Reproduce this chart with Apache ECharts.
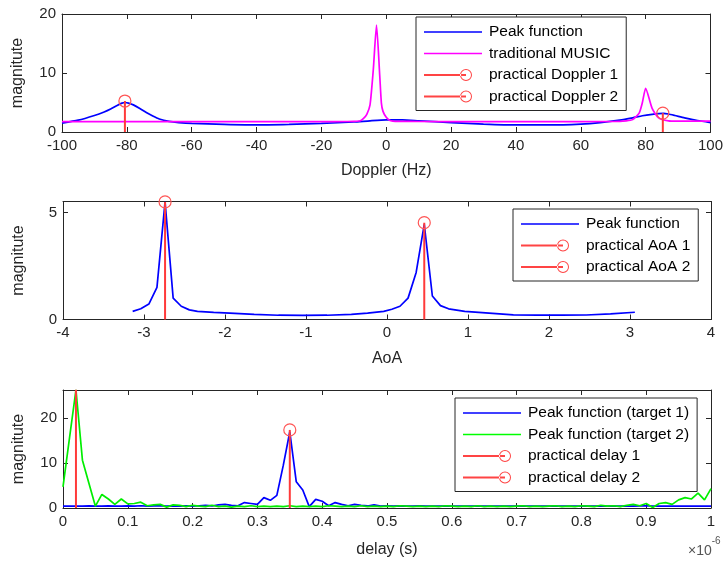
<!DOCTYPE html>
<html>
<head>
<meta charset="utf-8">
<script src="https://cdn.jsdelivr.net/npm/echarts@6/dist/echarts.min.js"></script>
<style>html,body{margin:0;padding:0;background:#fff}#c{width:726px;height:562px}</style>
</head>
<body>
<div id="c"></div>
<script>
// ---- Doppler panel ----
const dopplerX    = [-100,-95,-90,-87,-85,-83,-81.5,-80.5,-79.5,-78,-76,-74,-72,-70,-67,-64,-60,-50,-40,-30,-20,-10,-5,0,5,10,20,30,40,50,60,66,72,76,79,82,84,85.5,87,89,92,96,100];
const peakDoppler = [1.5,2.0,2.8,3.4,3.9,4.5,4.9,5.0,4.9,4.6,4.0,3.3,2.7,2.2,1.8,1.6,1.45,1.3,1.2,1.3,1.45,1.7,1.9,2.05,2.05,1.9,1.6,1.35,1.2,1.2,1.35,1.6,2.0,2.4,2.75,3.0,3.12,3.15,3.05,2.8,2.4,1.95,1.6];
const musicX = [-100,-80,-60,-40,-20,-12,-10,-8,-7,-6,-5,-4,-3,-2,-1.5,-1,0,1,2,4,10,30,50,70,74,76,78,79,80,82,84,87,90,100];
const musicY = [1.75,1.75,1.75,1.75,1.75,1.78,1.8,1.9,2.3,3.0,4.6,10.5,18.1,9.5,4.9,3.5,2.5,2.0,1.85,1.8,1.78,1.75,1.75,1.78,1.9,2.1,3.2,5.0,7.4,4.0,2.4,1.9,1.85,1.85];
const dopplerStemX = [-80.6, 85.3];
const dopplerStemY = [5.25, 3.2];

// ---- AoA panel ----
const aoaX    = [-3.14,-3.04,-2.94,-2.84,-2.74,-2.64,-2.54,-2.44,-2.34,-2.14,-1.94,-1.64,-1.34,-1.04,-0.74,-0.44,-0.24,-0.04,0.06,0.16,0.26,0.36,0.46,0.56,0.66,0.76,0.96,1.26,1.56,1.86,2.16,2.46,2.76,3.06];
const peakAoA = [0.38,0.5,0.72,1.5,5.5,1.0,0.62,0.45,0.38,0.33,0.3,0.24,0.2,0.19,0.2,0.24,0.3,0.38,0.48,0.62,1.0,2.2,4.45,1.1,0.65,0.5,0.38,0.3,0.22,0.2,0.2,0.21,0.26,0.34];
const aoaStemX = [-2.74, 0.46];
const aoaStemY = [5.5, 4.53];

// ---- delay panel (x in units of 1e-6 s) ----
const delayX = [0,0.01,0.02,0.03,0.04,0.05,0.06,0.07,0.08,0.09,
  0.1,0.11,0.12,0.13,0.14,0.15,0.16,0.17,0.18,0.19,
  0.2,0.21,0.22,0.23,0.24,0.25,0.26,0.27,0.28,0.29,
  0.3,0.31,0.32,0.33,0.34,0.35,0.36,0.37,0.38,0.39,
  0.4,0.41,0.42,0.43,0.44,0.45,0.46,0.47,0.48,0.49,
  0.5,0.51,0.52,0.53,0.54,0.55,0.56,0.57,0.58,0.59,
  0.6,0.61,0.62,0.63,0.64,0.65,0.66,0.67,0.68,0.69,
  0.7,0.71,0.72,0.73,0.74,0.75,0.76,0.77,0.78,0.79,
  0.8,0.81,0.82,0.83,0.84,0.85,0.86,0.87,0.88,0.89,
  0.9,0.91,0.92,0.93,0.94,0.95,0.96,0.97,0.98,0.99,1.0];
const target1 = [0.4,0.4,0.4,0.4,0.45,0.4,0.4,0.45,0.4,0.4,
  0.45,0.4,0.5,0.4,0.45,0.5,0.4,0.45,0.4,0.5,
  0.4,0.5,0.6,0.45,0.7,0.8,0.6,0.5,1.2,1.0,
  0.8,2.3,1.7,2.8,9.5,16.9,5.8,4.0,0.3,1.9,
  1.5,0.5,1.2,0.8,0.5,0.8,0.6,0.45,0.7,0.4,
  0.5,0.4,0.45,0.4,0.4,0.45,0.4,0.4,0.4,0.4,
  0.4,0.4,0.4,0.4,0.4,0.4,0.4,0.4,0.4,0.4,
  0.4,0.4,0.4,0.4,0.4,0.4,0.4,0.4,0.4,0.4,
  0.4,0.4,0.4,0.4,0.4,0.4,0.4,0.4,0.4,0.45,
  0.5,0.4,0.4,0.4,0.4,0.4,0.4,0.4,0.4,0.4,0.4];
const target2 = [4.7,15.5,26.2,10.6,5.5,0.4,3.0,2.0,0.8,2.0,
  0.9,1.0,1.3,0.5,0.7,0.8,0.2,0.7,0.6,0.3,
  0.6,0.4,0.3,0.6,0.3,0.4,0.2,0.4,0.3,0.5,
  0.3,0.4,0.3,0.4,0.3,0.5,0.3,0.4,0.3,0.4,
  0.3,0.5,0.4,0.3,0.4,0.3,0.5,0.3,0.4,0.3,
  0.4,0.3,0.5,0.4,0.3,0.4,0.3,0.4,0.3,0.5,
  0.4,0.3,0.4,0.3,0.5,0.3,0.4,0.3,0.4,0.3,
  0.4,0.5,0.3,0.4,0.3,0.4,0.5,0.3,0.4,0.3,
  0.5,0.4,0.3,0.6,0.4,0.5,0.3,0.6,0.8,0.5,
  1.0,0.1,1.0,1.2,0.8,1.8,2.3,2.0,3.3,1.8,4.3];
const delayStemX = [0.02, 0.35];
const delayStemY = [26.2, 17.3];

const FONT = 'Liberation Sans, Arial, Helvetica, sans-serif';
const AX = '#262626';
const zip = (xs, ys) => xs.map((x, i) => [x, ys[i]]);

const lineIcon = 'path://M0,0M58,14M0,6.2h58v1.6h-58z';
const stemIcon = 'path://M0,0M58,14M0,6.1h42v1.8h-42z M48,7 A6,6 0 1,0 36,7 A6,6 0 1,0 48,7 Z M47,7 A5,5 0 1,1 37,7 A5,5 0 1,1 47,7 Z';

function stem(name, x, v, xi, yi) {
  return {
    name, type: 'line', xAxisIndex: xi, yAxisIndex: yi, z: 5,
    data: [{ value: [x, 0], symbol: 'none' }, { value: [x, v] }],
    symbol: 'circle', symbolSize: 12, showSymbol: true,
    itemStyle: { color: 'rgba(0,0,0,0)', borderColor: '#ff5555', borderWidth: 1.2 },
    lineStyle: { color: '#ff3a3a', width: 2 },
    emphasis: { disabled: true }
  };
}
function curve(name, xs, ys, color, xi, yi, smooth) {
  return {
    name, type: 'line', xAxisIndex: xi, yAxisIndex: yi, data: zip(xs, ys),
    symbol: 'none', smooth: smooth || false, color,
    lineStyle: { color, width: 1.7 }, emphasis: { disabled: true }
  };
}
function xMain(grid, min, max, interval, name, gap) {
  return {
    type: 'value', gridIndex: grid, position: 'bottom', min, max, interval,
    name, nameLocation: 'middle', nameGap: gap,
    nameTextStyle: { fontFamily: FONT, fontSize: 16, color: AX },
    axisLine: { show: true, onZero: false, lineStyle: { color: AX, width: 1 } },
    axisTick: { show: true, inside: true, length: 5, lineStyle: { color: AX } },
    axisLabel: { fontFamily: FONT, fontSize: 15, color: AX, margin: 6 },
    splitLine: { show: false }
  };
}
function xTop(grid, min, max, interval) {
  return {
    type: 'value', gridIndex: grid, position: 'top', min, max, interval,
    axisLine: { show: true, onZero: false, lineStyle: { color: AX, width: 1 } },
    axisTick: { show: true, inside: true, length: 5, lineStyle: { color: AX } },
    axisLabel: { show: false }, splitLine: { show: false }
  };
}
function yMain(grid, min, max, interval, gap) {
  return {
    type: 'value', gridIndex: grid, position: 'left', min, max, interval,
    name: 'magnitute', nameLocation: 'middle', nameGap: gap,
    nameTextStyle: { fontFamily: FONT, fontSize: 16, color: AX },
    axisLine: { show: true, onZero: false, lineStyle: { color: AX, width: 1 } },
    axisTick: { show: true, inside: true, length: 5, lineStyle: { color: AX } },
    axisLabel: { fontFamily: FONT, fontSize: 15, color: AX, margin: 6, showMaxLabel: (max % interval === 0) },
    splitLine: { show: false }
  };
}
function yRight(grid, min, max, interval) {
  return {
    type: 'value', gridIndex: grid, position: 'right', min, max, interval,
    axisLine: { show: true, onZero: false, lineStyle: { color: AX, width: 1 } },
    axisTick: { show: true, inside: true, length: 5, lineStyle: { color: AX } },
    axisLabel: { show: false }, splitLine: { show: false }
  };
}
function legend(left, top, names, kinds) {
  return {
    left, top, orient: 'vertical', itemWidth: 58, itemHeight: 14, itemGap: 5.5,
    padding: [7, 8, 6, 8], borderColor: AX, borderWidth: 1, backgroundColor: '#fff',
    selectedMode: false,
    textStyle: { fontFamily: FONT, fontSize: 15.5, color: '#000', padding: [0, 0, 0, 2] },
    data: names.map((n, i) => ({
      name: n,
      icon: kinds[i].type === 'stem' ? stemIcon : lineIcon,
      itemStyle: { color: kinds[i].color, borderWidth: 0, borderColor: 'rgba(0,0,0,0)', opacity: 1 }
    }))
  };
}

const RED = '#ff4444';
const option = {
  animation: false,
  backgroundColor: '#fff',
  grid: [
    { left: 62, top: 14, width: 649, height: 118 },
    { left: 63, top: 201.5, width: 648, height: 118 },
    { left: 63, top: 390, width: 648, height: 118 }
  ],
  xAxis: [
    xMain(0, -100, 100, 20, 'Doppler (Hz)', 31),
    xMain(1, -4, 4, 1, 'AoA', 31),
    xMain(2, 0, 1, 0.1, 'delay (s)', 34),
    xTop(0, -100, 100, 20), xTop(1, -4, 4, 1), xTop(2, 0, 1, 0.1)
  ],
  yAxis: [
    yMain(0, 0, 20, 10, 36), yMain(1, 0, 5.52, 5, 36), yMain(2, 0, 26.15, 10, 36),
    yRight(0, 0, 20, 10), yRight(1, 0, 5.52, 5), yRight(2, 0, 26.15, 10)
  ],
  legend: [
    legend(416, 17, ['Peak function', 'traditional MUSIC', 'practical Doppler 1', 'practical Doppler 2'],
      [{ type: 'line', color: '#0000ff' }, { type: 'line', color: '#ff00ff' }, { type: 'stem', color: RED }, { type: 'stem', color: RED }]),
    legend(513, 209, ['Peak function', 'practical AoA 1', 'practical AoA 2'],
      [{ type: 'line', color: '#0000ff' }, { type: 'stem', color: RED }, { type: 'stem', color: RED }]),
    legend(455, 398, ['Peak function (target 1)', 'Peak function (target 2)', 'practical delay 1', 'practical delay 2'],
      [{ type: 'line', color: '#0000ff' }, { type: 'line', color: '#00ff00' }, { type: 'stem', color: RED }, { type: 'stem', color: RED }])
  ],
  graphic: [{
    type: 'text', left: 688, top: 536,
    style: {
      text: '{a|×10}{b|-6}',
      rich: {
        a: { fontFamily: FONT, fontSize: 14, fill: '#555', padding: [8, 0, 0, 0] },
        b: { fontFamily: FONT, fontSize: 10, fill: '#555', verticalAlign: 'top' }
      }
    }
  }],
  series: [
    curve('Peak function', dopplerX, peakDoppler, '#0000ff', 0, 0, 0.2),
    curve('traditional MUSIC', musicX, musicY, '#ff00ff', 0, 0, 0.2),
    stem('practical Doppler 1', dopplerStemX[0], dopplerStemY[0], 0, 0),
    stem('practical Doppler 2', dopplerStemX[1], dopplerStemY[1], 0, 0),
    curve('Peak function', aoaX, peakAoA, '#0000ff', 1, 1),
    stem('practical AoA 1', aoaStemX[0], aoaStemY[0], 1, 1),
    stem('practical AoA 2', aoaStemX[1], aoaStemY[1], 1, 1),
    curve('Peak function (target 1)', delayX, target1, '#0000ff', 2, 2),
    curve('Peak function (target 2)', delayX, target2, '#00ee00', 2, 2),
    stem('practical delay 1', delayStemX[0], delayStemY[0], 2, 2),
    stem('practical delay 2', delayStemX[1], delayStemY[1], 2, 2)
  ]
};
const chart = echarts.init(document.getElementById('c'), null, { renderer: 'canvas' });
chart.setOption(option);
</script>
</body>
</html>
